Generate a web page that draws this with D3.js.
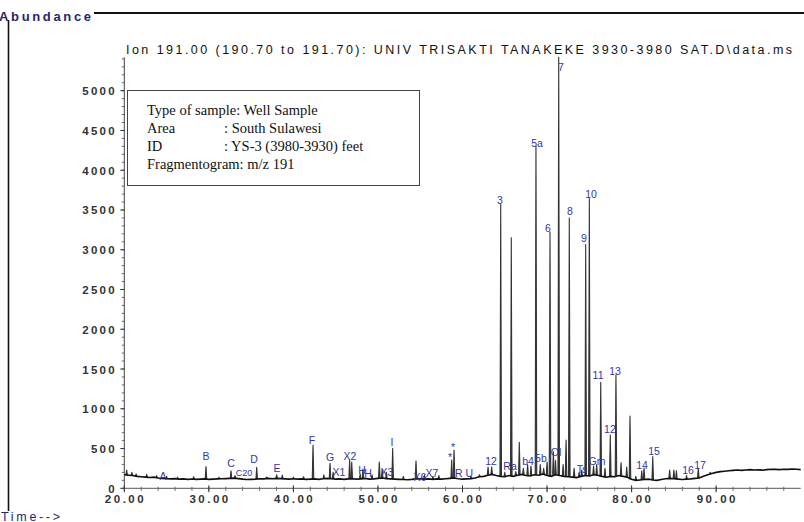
<!DOCTYPE html>
<html>
<head>
<meta charset="utf-8">
<title>Fragmentogram m/z 191</title>
<script src="https://cdnjs.cloudflare.com/ajax/libs/d3/7.8.5/d3.min.js"></script>
<style>
    body { margin: 0; background: #fff; }
</style>
</head>
<body>
<script>
var width = 804, height = 522;

// baseline of the trace: [retention time, abundance]
var baseline = [
    [20,170],[20.5,165],[21,160],[21.5,150],[22,145],[22.5,140],[23,135],[23.5,140],[24,130],[24.5,125],
    [25,120],[25.5,118],[26,122],[26.5,115],[27,118],[27.5,112],[28,116],[28.5,112],[29,115],[29.5,118],
    [30,112],[30.5,115],[31,118],[31.5,120],[32,122],[32.5,125],[33,128],[33.5,122],[34,115],[34.5,110],
    [35,112],[35.5,115],[36,120],[36.5,118],[37,125],[37.5,120],[38,125],[38.5,122],[39,118],[39.5,115],
    [40,120],[40.5,115],[41,118],[41.5,112],[42,115],[42.5,118],[43,112],[43.5,120],[44,125],[44.5,120],
    [45,115],[45.5,118],[46,112],[46.5,118],[47,120],[47.5,115],[48,118],[48.5,125],[49,115],[49.5,118],
    [50,125],[50.5,130],[51,122],[51.5,118],[52,115],[52.5,112],[53,110],[53.5,108],[54,112],[54.5,120],
    [55,118],[55.5,115],[56,118],[56.5,112],[57,118],[57.5,115],[58,120],[58.5,125],[59,130],[59.5,120],
    [60,115],[60.5,118],[61,122],[61.5,130],[62,145],[62.5,150],[63,165],[63.5,175],[64,160],[64.5,150],
    [65,145],[65.5,160],[66,150],[66.5,165],[67,175],[67.5,160],[68,155],[68.5,170],[69,165],[69.5,180],
    [70,160],[70.5,150],[71,170],[71.5,160],[72,150],[72.5,145],[73,140],[73.5,135],[74,150],[74.5,160],
    [75,155],[75.5,170],[76,165],[76.5,150],[77,140],[77.5,150],[78,145],[78.5,160],[79,150],[79.5,140],
    [80,115],[80.5,100],[81,105],[81.5,110],[82,115],[82.5,105],[83,100],[83.5,110],[84,120],[84.5,125],
    [85,120],[85.5,115],[86,110],[86.5,115],[87,118],[87.5,125],[88,130],[88.5,150],[89,170],[89.5,185],
    [90,200],[90.5,210],[91,215],[91.5,220],[92,225],[92.5,230],[93,225],[93.5,230],[94,235],[94.5,230],
    [95,232],[95.5,228],[96,235],[96.5,240],[97,238],[97.5,235],[98,240],[98.5,238],[99,242],[99.5,240],
    [100,235]
];

// peak apexes: [retention time, abundance]
var peaks = [
    [20.28,230],[20.9,200],[21.4,180],[22.65,175],[23.83,160],[25.0,150],[26.3,140],[28.2,145],
    [29.66,272],[31.2,140],[32.62,221],[33.1,160],[35.66,264],[36.84,142],[38.02,171],[38.69,167],
    [40.0,140],[41.2,145],[42.32,544],[43.6,170],[44.33,314],[44.7,200],[46.65,356],[46.9,330],
    [47.9,180],[48.23,243],[49.3,170],[50.16,331],[50.5,240],[51.0,200],[51.74,503],[53.0,150],
    [54.5,343],[55.5,170],[56.5,150],[57.2,160],[58.72,356],[59.0,482],[61.0,150],[62.0,170],
    [63.02,268],[63.45,268],[64.52,3570],[65.0,200],[65.77,3150],[66.3,210],[66.72,578],[67.2,250],
    [67.7,300],[68.1,280],[68.69,4300],[69.2,300],[69.6,250],[70.0,330],[70.35,3224],[70.75,460],
    [71.0,350],[71.38,5420],[71.9,300],[72.25,608],[72.63,3400],[73.2,250],[73.8,200],[74.1,230],
    [74.57,3066],[75.0,3643],[75.5,280],[75.87,300],[76.35,1333],[76.85,250],[77.48,670],[78.15,1425],
    [78.75,322],[79.42,267],[79.81,909],[80.5,150],[81.2,220],[81.47,255],[82.5,398],[84.5,230],
    [85.0,230],[85.3,220],[86.5,160],[87.89,251],[89.3,200]
];

// peak labels: [text, retention time, abundance level of the label]
var peakLabels = [
    ["A",24.58,155],["B",29.66,406],["C",32.62,318],["C20",34.16,205],["D",35.34,369],["E",38.06,255],
    ["F",42.2,608],["G",44.33,394],["X1",45.39,205],["X2",46.69,406],["H",48.11,230],["H",48.82,193],
    ["X3",51.07,205],["I",51.66,582],["X6",54.97,142],["X7",56.39,193],["*",58.52,394],["*",58.88,519],
    ["R U",60.18,193],["12",63.37,343],["3",64.43,3625],["Ra",65.62,280],["b4",67.75,343],["5a",68.81,4342],
    ["5b",69.28,381],["6",70.11,3274],["Ol",71.06,457],["7",71.65,5300],["8",72.71,3486],["Ts",74.13,243],
    ["9",74.37,3147],["10",75.2,3700],["Gm",75.9,343],["11",76.03,1425],["12",77.44,746],["13",78.04,1475],
    ["14",81.23,293],["15",82.65,469],["16",86.67,230],["17",88.09,293]
];

var xTicks = [20, 30, 40, 50, 60, 70, 80, 90];
var yTicks = [0, 500, 1000, 1500, 2000, 2500, 3000, 3500, 4000, 4500, 5000];

var infoKeys = ["Type of sample", "Area", "ID", "Fragmentogram"];
var infoValues = ["Well Sample", "South Sulawesi", "YS-3 (3980-3930) feet", "m/z 191"];

var titleText = "Ion 191.00 (190.70 to 191.70): UNIV TRISAKTI TANAKEKE 3930-3980 SAT.D\\data.ms";

var svg = d3.select("body").append("svg")
    .attr("width", width)
    .attr("height", height)
    .style("font-family", "'Liberation Sans', Arial, sans-serif");

var x = d3.scaleLinear().domain([20, 100]).range([124.3, 800.7]);
var y = d3.scaleLinear().domain([0, 5420]).range([488.3, 57.3]);

// outer frame
svg.append("line")
    .attr("x1", 94).attr("x2", 804).attr("y1", 13).attr("y2", 13)
    .attr("stroke", "#111").attr("stroke-width", 2);
svg.append("line")
    .attr("x1", 8.5).attr("x2", 8.5).attr("y1", 20).attr("y2", 511)
    .attr("stroke", "#111").attr("stroke-width", 1.6);

svg.append("text")
    .attr("x", -1).attr("y", 20.5)
    .attr("textLength", 92).attr("lengthAdjust", "spacing")
    .attr("font-size", 13).attr("font-weight", "bold")
    .attr("fill", "#26266e")
    .text("Abundance");

svg.append("text")
    .attr("x", 1).attr("y", 520.5)
    .attr("textLength", 59).attr("lengthAdjust", "spacing")
    .attr("font-size", 12.5)
    .attr("fill", "#26266e")
    .text("Time-->");

svg.append("text")
    .attr("x", 126).attr("y", 54)
    .attr("textLength", 666).attr("lengthAdjust", "spacing")
    .attr("font-size", 12.5)
    .attr("fill", "#111")
    .text(titleText);

// y axis
var yAxis = svg.append("g").attr("class", "y-axis");
yAxis.append("line")
    .attr("x1", x(20)).attr("x2", x(20))
    .attr("y1", y(0)).attr("y2", y(5420))
    .attr("stroke", "#444");
yAxis.selectAll("line.minor")
    .data(d3.range(0, 5401, 100))
    .enter().append("line")
    .attr("class", "minor")
    .attr("x1", x(20) - 2.5).attr("x2", x(20))
    .attr("y1", function (d) { return y(d); })
    .attr("y2", function (d) { return y(d); })
    .attr("stroke", "#666");
yAxis.selectAll("line.major")
    .data(yTicks)
    .enter().append("line")
    .attr("class", "major")
    .attr("x1", x(20) - 4).attr("x2", x(20))
    .attr("y1", function (d) { return y(d); })
    .attr("y2", function (d) { return y(d); })
    .attr("stroke", "#333");
yAxis.selectAll("text")
    .data(yTicks)
    .enter().append("text")
    .attr("x", 117)
    .attr("y", function (d) { return y(d) + 4.5; })
    .attr("text-anchor", "end")
    .attr("font-size", 11.5).attr("font-weight", "bold")
    .attr("letter-spacing", 2.3)
    .attr("fill", "#333")
    .text(function (d) { return d; });

// x axis
var xAxis = svg.append("g").attr("class", "x-axis");
xAxis.append("line")
    .attr("x1", x(20)).attr("x2", x(100))
    .attr("y1", y(0)).attr("y2", y(0))
    .attr("stroke", "#555");
xAxis.selectAll("line.minor")
    .data(d3.range(20, 99, 2))
    .enter().append("line")
    .attr("class", "minor")
    .attr("x1", function (d) { return x(d); })
    .attr("x2", function (d) { return x(d); })
    .attr("y1", y(0) - 1.5).attr("y2", y(0) + 2.5)
    .attr("stroke", "#666");
xAxis.selectAll("line.major")
    .data(xTicks)
    .enter().append("line")
    .attr("class", "major")
    .attr("x1", function (d) { return x(d); })
    .attr("x2", function (d) { return x(d); })
    .attr("y1", y(0) - 3).attr("y2", y(0) + 4)
    .attr("stroke", "#333");
xAxis.selectAll("text")
    .data(xTicks)
    .enter().append("text")
    .attr("x", function (d) { return x(d) + 1.2; })
    .attr("y", y(0) + 15)
    .attr("text-anchor", "middle")
    .attr("font-size", 11.5).attr("font-weight", "bold")
    .attr("letter-spacing", 2.5)
    .attr("fill", "#333")
    .text(function (d) { return d3.format(".2f")(d); });

// trace
var line = d3.line()
    .x(function (d) { return x(d[0]); })
    .y(function (d) { return y(d[1]); });

var bisect = d3.bisector(function (d) { return d[0]; }).center;

svg.append("g").attr("class", "peaks")
    .selectAll("path")
    .data(peaks)
    .enter().append("path")
    .attr("d", function (d) {
        var base = baseline[bisect(baseline, d[0])][1];
        return line([[d[0] - 0.09, base], [d[0], d[1]], [d[0] + 0.09, base]]);
    })
    .attr("fill", "#333")
    .attr("stroke", "#333")
    .attr("stroke-width", 1.1)
    .attr("stroke-linejoin", "round");

svg.append("path")
    .datum(baseline)
    .attr("d", line)
    .attr("fill", "none")
    .attr("stroke", "#111")
    .attr("stroke-width", 1.6);

// peak labels
svg.append("g").attr("class", "peak-labels")
    .selectAll("text")
    .data(peakLabels)
    .enter().append("text")
    .attr("x", function (d) { return x(d[1]); })
    .attr("y", function (d) { return y(d[2]) + 4; })
    .attr("text-anchor", "middle")
    .attr("font-size", function (d) { return d[0] === "C20" ? 9 : 10.5; })
    .attr("fill", "#3434a6")
    .text(function (d) { return d[0]; });

// sample info box
var box = svg.append("g").attr("class", "info");
box.append("rect")
    .attr("x", 127.5).attr("y", 90.5)
    .attr("width", 292).attr("height", 95)
    .attr("fill", "#fff")
    .attr("stroke", "#444");

box.selectAll("text.key")
    .data(infoKeys)
    .enter().append("text")
    .attr("class", "key")
    .attr("x", 147)
    .attr("y", function (d, i) { return 115 + i * 18; })
    .attr("font-family", "'Liberation Serif', 'Times New Roman', serif")
    .attr("font-size", 14.5)
    .attr("fill", "#111")
    .text(function (d, i) {
        return (i === 0 || i === 3) ? d + ": " + infoValues[i] : d;
    });

box.selectAll("text.value")
    .data(infoValues.slice(1, 3))
    .enter().append("text")
    .attr("class", "value")
    .attr("x", 224)
    .attr("y", function (d, i) { return 133 + i * 18; })
    .attr("font-family", "'Liberation Serif', 'Times New Roman', serif")
    .attr("font-size", 14.5)
    .attr("fill", "#111")
    .text(function (d) { return ": " + d; });
</script>
</body>
</html>
